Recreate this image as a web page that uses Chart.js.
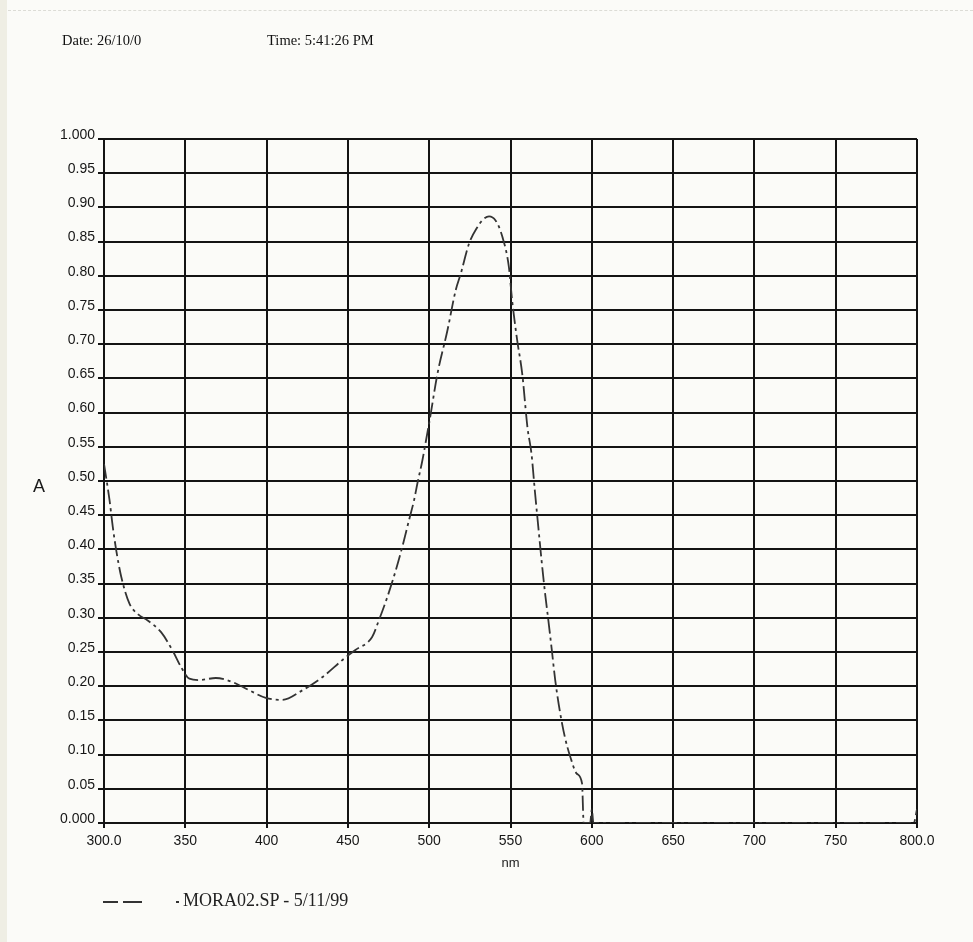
<!DOCTYPE html>
<html>
<head>
<meta charset="utf-8">
<title>MORA02.SP absorbance spectrum</title>
<script src="https://cdn.jsdelivr.net/npm/chart.js@4.4.1/dist/chart.umd.min.js"></script>
<style>
  html, body { margin: 0; padding: 0; background: #fbfbf8; }
  #page { position: relative; width: 973px; height: 942px; overflow: hidden; background: #fbfbf8; }
  #edge { position: absolute; left: 0; top: 0; width: 7px; height: 942px; background: #efeee4; }
  #topline { position: absolute; left: 8px; top: 10px; width: 965px; height: 0; border-top: 1px dashed #dcdcd6; }
  canvas { position: absolute; left: 0; top: 0; }
  .serif { position: absolute; font-family: "Liberation Serif", "Times New Roman", serif; color: #111; line-height: 1; white-space: nowrap; }
  .hdr { font-size: 14.5px; top: 33px; }
  #ylab { position: absolute; left: 33px; top: 477px; font-family: "Liberation Sans", Arial, sans-serif; font-size: 18px; line-height: 1; color: #1a1a1a; }
  #legtext { font-size: 18px; left: 183px; top: 891px; color: #222; }
  .dash { position: absolute; top: 901px; height: 1.6px; background: #333; }
</style>
</head>
<body>
<div id="page">
  <div id="edge"></div>
  <div id="topline"></div>
  <canvas id="spectrum" width="973" height="942"></canvas>
  <div class="serif hdr" style="left:62px">Date: 26/10/0</div>
  <div class="serif hdr" style="left:267px">Time: 5:41:26 PM</div>
  <div id="ylab">A</div>
  <div class="dash" style="left:103px;width:15px"></div>
  <div class="dash" style="left:123px;width:19px"></div>
  <div class="dash" style="left:176px;width:3px"></div>
  <div id="legtext" class="serif">MORA02.SP - 5/11/99</div>
</div>
<script>
// Scan of sample MORA02.SP (recorded 5/11/99)
const seriesName = 'MORA02.SP - 5/11/99';

// wavelength, nm
const wavelengths = [
  300.0, 303.4, 305.4, 307.5, 310.6, 315.6, 321.0, 326.9, 335.1, 342.2,
  347.4, 352.5, 358.6, 368.8, 379.0, 389.3, 399.5, 409.7, 422.0, 434.2,
  447.5, 454.6, 464.9, 469.0, 474.2, 479.4, 483.5, 487.6, 490.7, 492.7,
  495.8, 499.0, 500.0, 505.1, 511.2, 516.3, 519.4, 524.5, 529.6, 533.0,
  536.8, 540.8, 545.0, 549.0, 551.0, 554.1, 557.2, 560.5, 562.9, 565.0,
  567.1, 569.1, 571.3, 573.3, 575.4, 577.5, 580.6, 583.5, 587.0, 590.8,
  594.0, 595.0, 599.0, 600.0, 601.0, 798.0, 800.0
];

// absorbance
const absorbance = [
  0.525, 0.472, 0.433, 0.399, 0.360, 0.321, 0.305, 0.296, 0.279, 0.252,
  0.228, 0.211, 0.209, 0.212, 0.206, 0.194, 0.183, 0.180, 0.194, 0.213,
  0.240, 0.253, 0.272, 0.296, 0.330, 0.369, 0.404, 0.443, 0.472, 0.496,
  0.530, 0.572, 0.585, 0.657, 0.720, 0.779, 0.803, 0.847, 0.871, 0.882,
  0.887, 0.881, 0.857, 0.813, 0.764, 0.706, 0.657, 0.577, 0.540, 0.485,
  0.433, 0.384, 0.335, 0.296, 0.253, 0.209, 0.160, 0.125, 0.095, 0.072,
  0.058, 0.000, 0.000, 0.020, 0.000, 0.000, 0.020
];

// axis ranges and tick spacing
const xRange = [300, 800];
const xStep = 50;
const yRange = [0, 1];
const yStep = 0.05;

const points = wavelengths.map((w, i) => ({ x: w, y: absorbance[i] }));

const tickFont = { family: '"Liberation Sans", Arial, sans-serif', size: 14 };
const gridColor = '#141414';

new Chart(document.getElementById('spectrum'), {
  type: 'line',
  data: {
    datasets: [{
      label: seriesName,
      data: points,
      borderColor: '#333333',
      borderWidth: 1.8,
      borderDash: [15, 4, 3, 4],
      pointRadius: 0,
      fill: false,
      cubicInterpolationMode: 'monotone'
    }]
  },
  options: {
    responsive: false,
    animation: false,
    layout: { padding: { left: 0, top: 139, right: 56, bottom: 71 } },
    plugins: { legend: { display: false }, tooltip: { enabled: false } },
    scales: {
      x: {
        type: 'linear',
        min: xRange[0],
        max: xRange[1],
        afterFit: s => { s.height = 48; },
        ticks: {
          stepSize: xStep,
          color: '#161616',
          font: tickFont,
          padding: 5,
          maxRotation: 0,
          callback: v => (v === xRange[0] || v === xRange[1]) ? v.toFixed(1) : String(Math.round(v))
        },
        grid: { color: gridColor, lineWidth: 2, tickLength: 5, drawTicks: true },
        border: { color: gridColor, width: 2 },
        title: {
          display: true,
          text: 'nm',
          color: '#1a1a1a',
          font: { family: '"Liberation Sans", Arial, sans-serif', size: 13 },
          padding: { top: 0, bottom: 0 }
        }
      },
      y: {
        min: yRange[0],
        max: yRange[1],
        afterFit: s => { s.width = 104; },
        ticks: {
          stepSize: yStep,
          color: '#161616',
          font: tickFont,
          padding: 3,
          labelOffset: -4,
          callback: v => {
            const r = Math.round(v * 100) / 100;
            return (r === 0 || r === 1) ? r.toFixed(3) : r.toFixed(2);
          }
        },
        grid: { color: gridColor, lineWidth: 2, tickLength: 6, drawTicks: true },
        border: { color: gridColor, width: 2 }
      }
    }
  }
});
</script>
</body>
</html>
